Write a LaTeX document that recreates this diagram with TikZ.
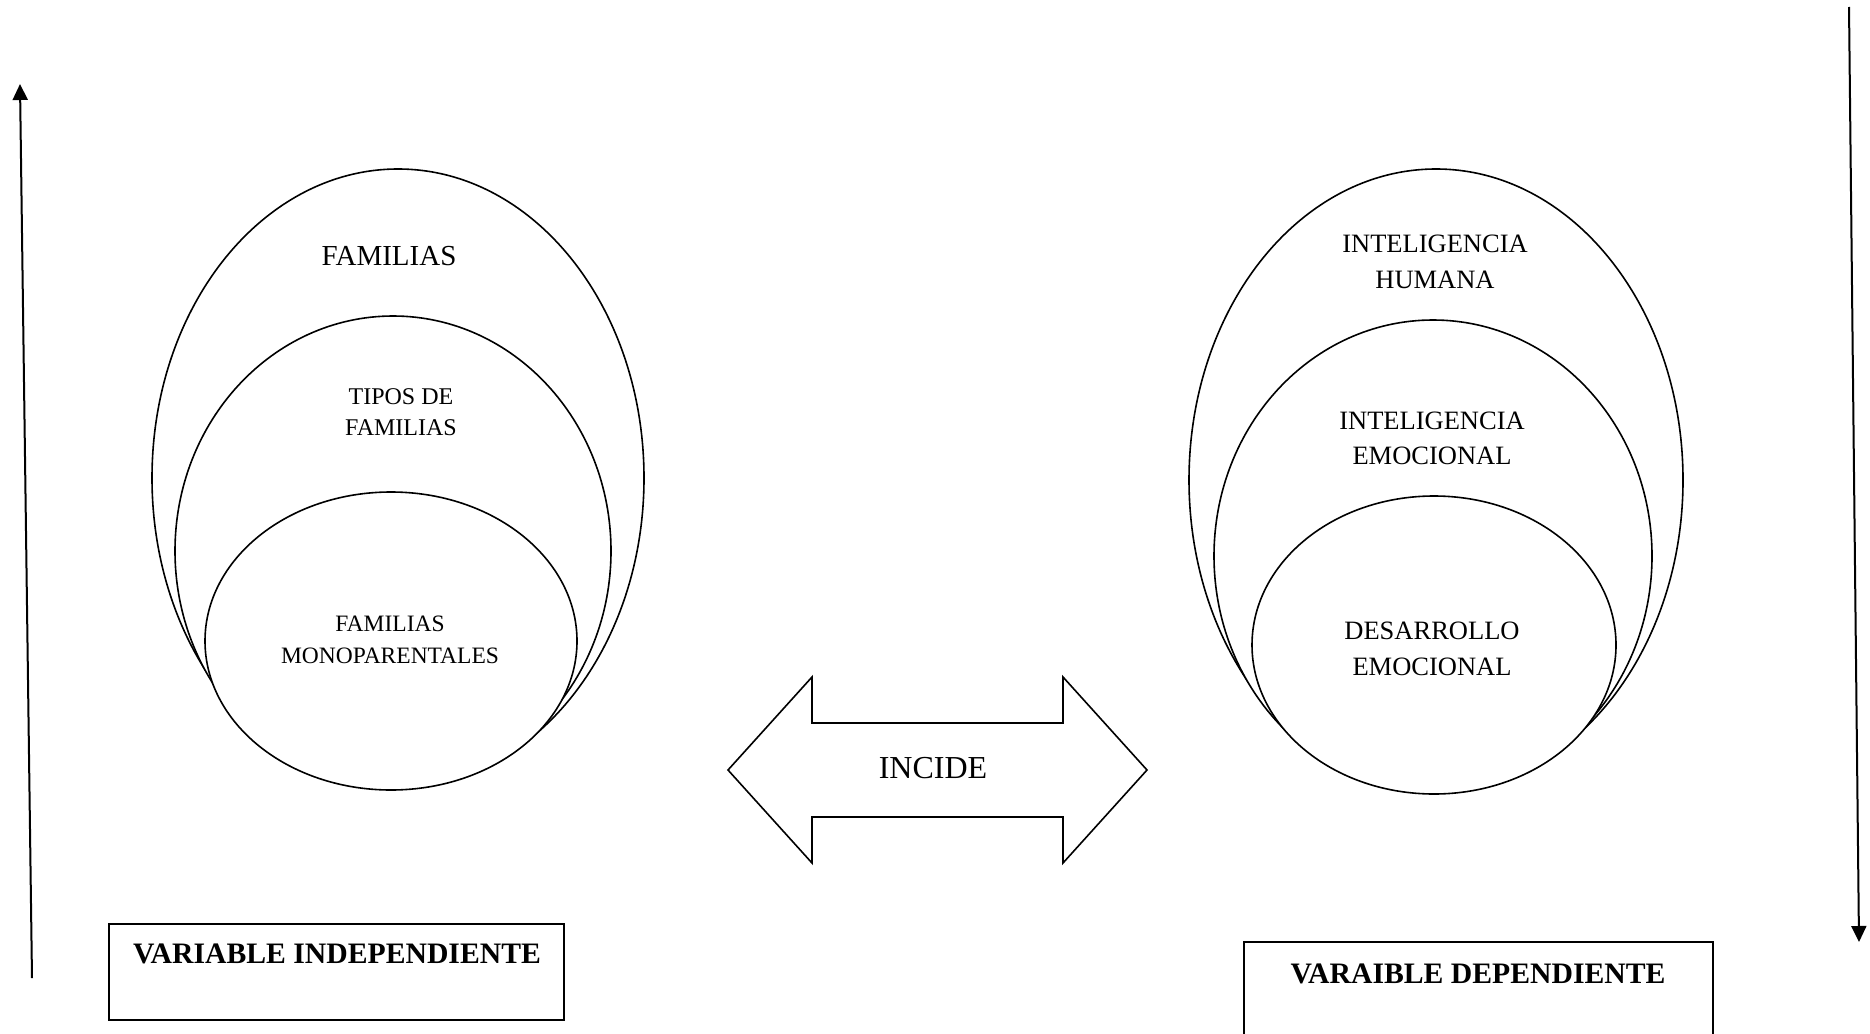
\documentclass[tikz,border=0pt]{standalone}
\usepackage{fontspec}
\setmainfont{Liberation Serif}
\usetikzlibrary{shapes.geometric,arrows.meta}
\begin{document}
\begin{tikzpicture}[x=1pt,y=-1pt,
  oval/.style={draw, ellipse, fill=white, line width=1.6pt, inner sep=0pt},
  lbl/.style={align=center, inner sep=0pt},
  frame/.style={draw, line width=2pt, inner sep=0pt, rectangle},
  vline/.style={line width=2pt, -{Triangle[length=16pt,width=15pt]}},
  bigarrow/.style={draw, line width=1.6pt, fill=white, line join=miter}]
\useasboundingbox (0,0) rectangle (1870,1033);
\clip (0,0) rectangle (1870,1033);

% left vertical arrow (pointing up)
\coordinate (lb) at (32,978);
\coordinate (lt) at (20,84);
\draw[vline] (lb) -- (lt);
% right vertical arrow (pointing down)
\coordinate (rt) at (1849,7);
\coordinate (rb) at (1859,942);
\draw[vline] (rt) -- (rb);

% left ellipses
\node[oval, minimum width=492pt, minimum height=618pt] (lo) at (398,478) {};
\node[oval, minimum width=436pt, minimum height=470pt] (lm) at (393,551) {};
\node[oval, minimum width=372pt, minimum height=298pt] (li) at (391,641) {};
\node[lbl, font=\fontsize{29}{34}\selectfont] (t1) at (389,256) {FAMILIAS};
\node[lbl, font=\fontsize{24}{31}\selectfont] (t2) at (401,412) {TIPOS DE\\FAMILIAS};
\node[lbl, font=\fontsize{23.5}{32}\selectfont] (t3) at (390,640) {FAMILIAS\\MONOPARENTALES};

% right ellipses
\node[oval, minimum width=494pt, minimum height=622pt] (ro) at (1436,480) {};
\node[oval, minimum width=438pt, minimum height=472pt] (rm) at (1433,556) {};
\node[oval, minimum width=364pt, minimum height=298pt] (ri) at (1434,645) {};
\node[lbl, font=\fontsize{26.5}{36}\selectfont] (t4) at (1435,262) {INTELIGENCIA\\HUMANA};
\node[lbl, font=\fontsize{26.5}{35}\selectfont] (t5) at (1432,438) {INTELIGENCIA\\EMOCIONAL};
\node[lbl, font=\fontsize{26.5}{36}\selectfont] (t6) at (1432,649) {DESARROLLO\\EMOCIONAL};

% double arrow
\draw[bigarrow] (728,770) -- (812,677) -- (812,723) -- (1063,723) -- (1063,677)
  -- (1147,770) -- (1063,863) -- (1063,817) -- (812,817) -- (812,863) -- cycle;
\node[lbl, font=\fontsize{32}{36}\selectfont] (inc) at (933,768) {INCIDE};

% boxes
\node[frame, minimum width=455pt, minimum height=96pt] (bl) at (336.5,971.5) {};
\node[lbl, anchor=base, font=\bfseries\fontsize{29.7}{34}\selectfont] (blt) at (337,963) {VARIABLE INDEPENDIENTE};
\node[frame, minimum width=469pt, minimum height=120pt] (br) at (1478.5,1002) {};
\node[lbl, anchor=base, font=\bfseries\fontsize{29.7}{34}\selectfont] (brt) at (1478,983) {VARAIBLE DEPENDIENTE};
\end{tikzpicture}
\end{document}
